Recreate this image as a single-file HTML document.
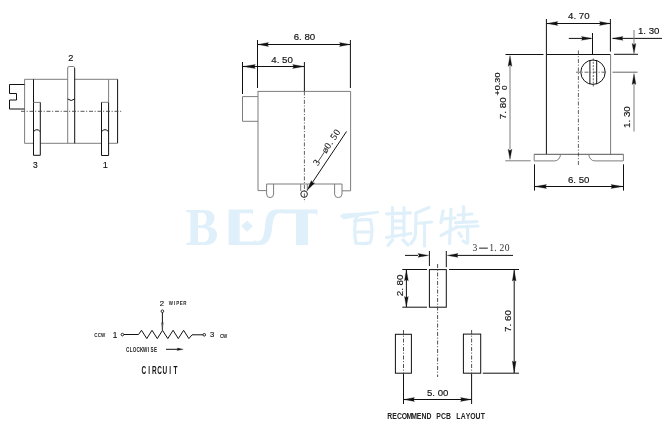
<!DOCTYPE html>
<html><head><meta charset="utf-8"><style>
html,body{margin:0;padding:0;background:#fff;width:671px;height:425px;overflow:hidden;font-family:"Liberation Sans",sans-serif;position:relative}
svg{display:block;position:absolute;left:0;top:0}
.ln{filter:grayscale(1)}
</style></head><body>
<svg class="wm" width="671" height="425" viewBox="0 0 671 425"><text x="0" y="0" font-family="Liberation Serif" font-weight="bold" font-size="53.5" fill="#e0f0fa" transform="translate(185.6,245) scale(0.92,1)">B</text><path fill="#e0f0fa" d="M228.6,209.6 H253 V215 L251.5,213.2 H239.7 V241.4 H254 L255.5,239 V245 H228.6 Z"/><polygon fill="#e0f0fa" points="247,220.5 252.8,226 247,231.8 241.2,226"/><path fill="#e0f0fa" d="M284,209.6 H276 C268,210 266,216 265,226 C264,236 263,240 258,241.5 H252.5 V245 H260 C268,245 271,238 272,229 C273,220 274,214 279,213.2 H284 Z"/><path fill="#e0f0fa" d="M282,209.6 H317.5 V215.5 L315.5,213.4 H308 V245 H296 V213.4 H284 Z"/><polygon fill="#e0f0fa" points="339.8,215.8 343,213.6 360,212.6 378.8,210.8 379.2,213.2 361,216.2 343.5,219.6"/><path d="M358.5,214.5 L354.5,221" fill="none" stroke="#e0f0fa" stroke-width="3.2" stroke-linecap="round" stroke-linejoin="round"/><path d="M355.5,221 Q353.6,232 356,243.5 M370.5,219.8 Q373.6,231 370.2,242.6 M355.5,221 Q363,219.2 370.5,219.8 M356,232 H371 M356,243 Q363,244.6 370.2,242.6" fill="none" stroke="#e0f0fa" stroke-width="3.2" stroke-linecap="round" stroke-linejoin="round"/><path d="M386.5,213.8 L410.5,212.8 M392.5,207.5 V236 M404,207.5 V236 M393,221 H403.5 M393,228 H403.5 M386.5,237.5 L411,233.5 M392.5,240 L388,245.5 M403,240 L408,245" fill="none" stroke="#e0f0fa" stroke-width="3.2" stroke-linecap="round" stroke-linejoin="round"/><path d="M429,207.5 L416,213 M416,213 L415.6,233 Q415,239.5 411,243.5 M416,223.5 L431.5,222 M424.5,223 V246" fill="none" stroke="#e0f0fa" stroke-width="3.2" stroke-linecap="round" stroke-linejoin="round"/><path d="M443,211 L441,222.5 M442,219 L455,218 M451,209 L449.6,243.5 M441,235.5 L457,227" fill="none" stroke="#e0f0fa" stroke-width="3.2" stroke-linecap="round" stroke-linejoin="round"/><path d="M458,215 L472,214 M463.6,206.6 V222 M455.6,222.6 L477,221.6 M456,227 L478,226 M467.6,226 V242.6 Q467.4,244.4 463.2,241 M459,233 L461.6,236.6" fill="none" stroke="#e0f0fa" stroke-width="3.2" stroke-linecap="round" stroke-linejoin="round"/></svg><svg class="ln" width="671" height="425" viewBox="0 0 671 425"><polyline points="24.5,79.3 67.5,79.3" fill="none" stroke="#7d7d7d" stroke-width="1"/><polyline points="74.5,79.3 117.5,79.3" fill="none" stroke="#7d7d7d" stroke-width="1"/><line x1="24.6" y1="79.3" x2="24.6" y2="143.3" stroke="#7d7d7d" stroke-width="1"/><line x1="117.6" y1="79.3" x2="117.6" y2="143.3" stroke="#111" stroke-width="1"/><polyline points="24.5,143.3 33.5,143.3" fill="none" stroke="#7d7d7d" stroke-width="1"/><polyline points="40.5,143.3 101.5,143.3" fill="none" stroke="#7d7d7d" stroke-width="1"/><polyline points="108.5,143.3 117.5,143.3" fill="none" stroke="#7d7d7d" stroke-width="1"/><line x1="33.5" y1="79.3" x2="33.5" y2="155.3" stroke="#111" stroke-width="1"/><line x1="108.6" y1="79.3" x2="108.6" y2="102.5" stroke="#7d7d7d" stroke-width="1"/><polyline points="24.5,84.5 9.5,84.5 9.5,93.5 16.5,93.5 16.5,100 9.5,100 9.5,109 24.5,109" fill="none" stroke="#111" stroke-width="1"/><path d="M67.7,143.3 V68 Q67.7,66.5 69.2,66.5 H73.2 Q74.7,66.5 74.7,68" fill="none" stroke="#7d7d7d" stroke-width="1"/><line x1="74.7" y1="68" x2="74.7" y2="143.3" stroke="#111" stroke-width="1"/><path d="M67.7,99 Q71.2,102 74.7,99" fill="none" stroke="#111" stroke-width="1"/><line x1="33.5" y1="102.4" x2="40.3" y2="102.4" stroke="#7d7d7d" stroke-width="1"/><polyline points="40.3,102.4 40.3,155.3 33.5,155.3" fill="none" stroke="#111" stroke-width="1"/><path d="M33.5,131.7 Q36.9,127.6 40.3,131.7" fill="none" stroke="#111" stroke-width="1"/><line x1="101.5" y1="102.3" x2="108.6" y2="102.3" stroke="#7d7d7d" stroke-width="1"/><polyline points="101.5,102.3 101.5,155.5 108.6,155.5 108.6,102.5" fill="none" stroke="#111" stroke-width="1"/><path d="M101.5,131.7 Q105,127.6 108.6,131.7" fill="none" stroke="#111" stroke-width="1"/><line x1="21" y1="111.3" x2="122" y2="111.3" stroke="#444" stroke-width="0.9" stroke-dasharray="4,1.6,1.1,1.8"/><text x="70.9" y="60.9" font-family="Liberation Sans" font-size="9.2" fill="#111" text-anchor="middle" stroke="#111" stroke-width="0.15">2</text><text x="35.4" y="167.7" font-family="Liberation Sans" font-size="8.4" fill="#111" text-anchor="middle" stroke="#111" stroke-width="0.15">3</text><text x="105.3" y="167.7" font-family="Liberation Sans" font-size="9.2" fill="#111" text-anchor="middle" stroke="#111" stroke-width="0.15">1</text><line x1="257.5" y1="91.4" x2="350.6" y2="91.4" stroke="#7d7d7d" stroke-width="1"/><line x1="258" y1="91.4" x2="258" y2="190.6" stroke="#7d7d7d" stroke-width="1"/><line x1="350.6" y1="91.4" x2="350.6" y2="190.8" stroke="#7d7d7d" stroke-width="1"/><line x1="258" y1="190.6" x2="266.5" y2="190.6" stroke="#7d7d7d" stroke-width="1"/><line x1="342" y1="190.8" x2="350.6" y2="190.8" stroke="#7d7d7d" stroke-width="1"/><line x1="266.5" y1="184" x2="342" y2="184" stroke="#7d7d7d" stroke-width="1"/><polyline points="258,96.6 242.5,96.6 242.5,121.3 258,121.3" fill="none" stroke="#7d7d7d" stroke-width="1"/><path d="M266.6,184 V194 A3.5,3.6 0 0 0 273.6,194 V184" fill="none" stroke="#7d7d7d" stroke-width="1"/><path d="M334.6,184 V194 A3.7,3.6 0 0 0 342,194 V184" fill="none" stroke="#7d7d7d" stroke-width="1"/><line x1="300.7" y1="184" x2="300.7" y2="191" stroke="#7d7d7d" stroke-width="1"/><line x1="307.3" y1="184" x2="307.3" y2="191" stroke="#7d7d7d" stroke-width="1"/><circle cx="304.1" cy="194.1" r="3.3" fill="none" stroke="#222" stroke-width="1"/><line x1="304.4" y1="91.4" x2="304.4" y2="202" stroke="#444" stroke-width="0.85" stroke-dasharray="4,1.6,1.1,1.8"/><line x1="257.5" y1="40" x2="257.5" y2="88" stroke="#111" stroke-width="1"/><line x1="350.4" y1="40" x2="350.4" y2="88" stroke="#111" stroke-width="1"/><line x1="257.5" y1="44.5" x2="350.4" y2="44.5" stroke="#111" stroke-width="1"/><polygon points="258.00,44.50 268.50,42.60 267.30,44.50 268.50,46.40" fill="#111" stroke="#111" stroke-width="0.3" stroke-linejoin="round"/><polygon points="350.00,44.50 339.50,46.40 340.70,44.50 339.50,42.60" fill="#111" stroke="#111" stroke-width="0.3" stroke-linejoin="round"/><text x="293.7" y="40.3" font-family="Liberation Sans" font-size="9.7" fill="#111" text-anchor="start" stroke="#111" stroke-width="0.15">6. 80</text><line x1="242.5" y1="62" x2="242.5" y2="94" stroke="#111" stroke-width="1"/><line x1="304.4" y1="62" x2="304.4" y2="91" stroke="#111" stroke-width="1"/><line x1="242.5" y1="66.5" x2="304.4" y2="66.5" stroke="#111" stroke-width="1"/><polygon points="243.00,66.50 255.30,64.60 254.10,66.50 255.30,68.40" fill="#111" stroke="#111" stroke-width="0.3" stroke-linejoin="round"/><polygon points="304.00,66.50 292.70,68.40 293.90,66.50 292.70,64.60" fill="#111" stroke="#111" stroke-width="0.3" stroke-linejoin="round"/><text x="271.3" y="62.6" font-family="Liberation Sans" font-size="9.7" fill="#111" text-anchor="start" stroke="#111" stroke-width="0.15">4. 50</text><line x1="346.5" y1="131.5" x2="309" y2="187.5" stroke="#111" stroke-width="1"/><polygon points="307.20,190.30 311.27,180.62 312.32,182.79 314.73,182.98" fill="#111" stroke="#111" stroke-width="0.3" stroke-linejoin="round"/><text x="0" y="0" font-family="Liberation Serif" font-size="9.6" fill="#1a1a1a" letter-spacing="0.4" stroke="#111" stroke-width="0.15" transform="translate(317.7,166.3) rotate(-56.1)">3—ø0. 50</text><line x1="546.5" y1="54.5" x2="610.5" y2="54.5" stroke="#111" stroke-width="1"/><line x1="546.4" y1="19" x2="546.4" y2="154.3" stroke="#111" stroke-width="1"/><line x1="610.4" y1="19" x2="610.4" y2="51.6" stroke="#111" stroke-width="1"/><line x1="610.6" y1="54.5" x2="610.6" y2="154.3" stroke="#7d7d7d" stroke-width="1"/><line x1="534" y1="154.3" x2="623.5" y2="154.3" stroke="#555" stroke-width="1"/><path d="M534.2,154.3 V160.9 H554.5 A6,6.6 0 0 0 560.5,154.3" fill="none" stroke="#7d7d7d" stroke-width="1"/><path d="M588.8,154.3 A6,6.6 0 0 0 594.8,160.9 H623.4 V154.3" fill="none" stroke="#7d7d7d" stroke-width="1"/><line x1="578.4" y1="50.5" x2="578.4" y2="166.5" stroke="#444" stroke-width="0.85" stroke-dasharray="4,1.6,1.1,1.8"/><circle cx="593" cy="72.2" r="12.2" fill="none" stroke="#111" stroke-width="1"/><line x1="589.9" y1="60.3" x2="589.9" y2="84.1" stroke="#111" stroke-width="1"/><line x1="596.7" y1="60.3" x2="596.7" y2="84.1" stroke="#111" stroke-width="1"/><line x1="593.3" y1="58.5" x2="593.3" y2="86.5" stroke="#444" stroke-width="0.8" stroke-dasharray="2,1.3"/><line x1="576" y1="72.2" x2="606.5" y2="72.2" stroke="#444" stroke-width="0.8" stroke-dasharray="4,1.6,1.1,1.8"/><line x1="546.4" y1="23.5" x2="610.4" y2="23.5" stroke="#111" stroke-width="1"/><polygon points="547.00,23.50 557.80,21.60 556.60,23.50 557.80,25.40" fill="#111" stroke="#111" stroke-width="0.3" stroke-linejoin="round"/><polygon points="610.00,23.50 599.50,25.40 600.70,23.50 599.50,21.60" fill="#111" stroke="#111" stroke-width="0.3" stroke-linejoin="round"/><text x="568" y="18.9" font-family="Liberation Sans" font-size="9.7" fill="#111" text-anchor="start" stroke="#111" stroke-width="0.15">4. 70</text><line x1="568.8" y1="38.4" x2="591" y2="38.4" stroke="#111" stroke-width="1"/><polygon points="592.00,38.40 581.50,40.30 582.70,38.40 581.50,36.50" fill="#111" stroke="#111" stroke-width="0.3" stroke-linejoin="round"/><line x1="592.5" y1="33" x2="592.5" y2="54.5" stroke="#111" stroke-width="1"/><line x1="612.6" y1="38.4" x2="662" y2="38.4" stroke="#111" stroke-width="1"/><polygon points="612.50,38.40 623.00,36.50 621.80,38.40 623.00,40.30" fill="#111" stroke="#111" stroke-width="0.3" stroke-linejoin="round"/><text x="637.9" y="33.6" font-family="Liberation Sans" font-size="9.7" fill="#111" text-anchor="start" stroke="#111" stroke-width="0.15">1. 30</text><line x1="634" y1="30" x2="634" y2="44" stroke="#7d7d7d" stroke-width="1"/><polygon points="634.00,53.60 632.10,43.50 634.00,44.70 635.90,43.50" fill="#111" stroke="#111" stroke-width="0.3" stroke-linejoin="round"/><line x1="614" y1="54.3" x2="638" y2="54.3" stroke="#111" stroke-width="1"/><line x1="612.5" y1="72.2" x2="637.6" y2="72.2" stroke="#666" stroke-width="1"/><line x1="634" y1="84" x2="634" y2="131.5" stroke="#7d7d7d" stroke-width="1"/><polygon points="634.00,73.60 635.90,84.40 634.00,83.20 632.10,84.40" fill="#111" stroke="#111" stroke-width="0.3" stroke-linejoin="round"/><text x="0" y="0" font-family="Liberation Sans" font-size="9.8" fill="#111" stroke="#111" stroke-width="0.15" transform="translate(630.3,128) rotate(-90)">1. 30</text><line x1="505.5" y1="54.5" x2="543.5" y2="54.5" stroke="#111" stroke-width="1"/><line x1="505.3" y1="160.8" x2="530.7" y2="160.8" stroke="#7d7d7d" stroke-width="1"/><line x1="510" y1="66" x2="510" y2="149" stroke="#7d7d7d" stroke-width="1"/><polygon points="510.00,55.60 511.90,66.30 510.00,65.10 508.10,66.30" fill="#111" stroke="#111" stroke-width="0.3" stroke-linejoin="round"/><polygon points="510.00,159.40 508.10,149.20 510.00,150.40 511.90,149.20" fill="#111" stroke="#111" stroke-width="0.3" stroke-linejoin="round"/><text x="0" y="0" font-family="Liberation Sans" font-size="9.8" fill="#111" stroke="#111" stroke-width="0.15" transform="translate(506.2,119.2) rotate(-90)">7. 80</text><text x="0" y="0" font-family="Liberation Sans" font-size="8" fill="#111" textLength="22.8" lengthAdjust="spacingAndGlyphs" stroke="#111" stroke-width="0.15" transform="translate(500,95.4) rotate(-90)">+0.30</text><text x="0" y="0" font-family="Liberation Sans" font-size="6.8" fill="#111" textLength="4.6" lengthAdjust="spacingAndGlyphs" stroke="#111" stroke-width="0.15" transform="translate(507.4,90) rotate(-90)">0</text><line x1="534.5" y1="164.3" x2="534.5" y2="190.6" stroke="#111" stroke-width="1"/><line x1="623.5" y1="164.3" x2="623.5" y2="190.6" stroke="#111" stroke-width="1"/><line x1="534.5" y1="186.5" x2="623.5" y2="186.5" stroke="#111" stroke-width="1"/><polygon points="535.00,186.50 546.50,184.60 545.30,186.50 546.50,188.40" fill="#111" stroke="#111" stroke-width="0.3" stroke-linejoin="round"/><polygon points="623.00,186.50 611.00,188.40 612.20,186.50 611.00,184.60" fill="#111" stroke="#111" stroke-width="0.3" stroke-linejoin="round"/><text x="567.9" y="182.8" font-family="Liberation Sans" font-size="9.7" fill="#111" text-anchor="start" stroke="#111" stroke-width="0.15">6. 50</text><rect x="429.4" y="269.6" width="16.9" height="37.6" fill="none" stroke="#111"/><rect x="395.4" y="334.3" width="16" height="38.9" fill="none" stroke="#111"/><rect x="463.4" y="334.1" width="17.3" height="39.1" fill="none" stroke="#111"/><line x1="437.6" y1="264" x2="437.6" y2="377" stroke="#333" stroke-width="0.85" stroke-dasharray="4,1.6,1.1,1.8"/><line x1="403.5" y1="330" x2="403.5" y2="374" stroke="#333" stroke-width="0.85" stroke-dasharray="4,1.6,1.1,1.8"/><line x1="403.5" y1="374" x2="403.5" y2="404" stroke="#111" stroke-width="1"/><line x1="471.6" y1="330" x2="471.6" y2="374" stroke="#333" stroke-width="0.85" stroke-dasharray="4,1.6,1.1,1.8"/><line x1="471.6" y1="374" x2="471.6" y2="404" stroke="#111" stroke-width="1"/><line x1="429.4" y1="251" x2="429.4" y2="266" stroke="#111" stroke-width="1"/><line x1="446.3" y1="251" x2="446.3" y2="267.2" stroke="#111" stroke-width="1"/><line x1="405" y1="255.4" x2="418" y2="255.4" stroke="#111" stroke-width="1"/><polygon points="428.50,255.40 418.00,257.30 419.20,255.40 418.00,253.50" fill="#111" stroke="#111" stroke-width="0.3" stroke-linejoin="round"/><line x1="457" y1="255.4" x2="513" y2="255.4" stroke="#111" stroke-width="1"/><polygon points="447.30,255.40 458.00,253.50 456.80,255.40 458.00,257.30" fill="#111" stroke="#111" stroke-width="0.3" stroke-linejoin="round"/><text x="472.6" y="251.4" font-family="Liberation Serif" font-size="9.6" fill="#333" text-anchor="start" >3</text><text x="489.3" y="251.4" font-family="Liberation Serif" font-size="9.6" fill="#333" text-anchor="start" >1</text><text x="494.2" y="251.4" font-family="Liberation Serif" font-size="9.6" fill="#333" text-anchor="start" >.</text><text x="499.4" y="251.4" font-family="Liberation Serif" font-size="9.6" fill="#333" text-anchor="start" >2</text><text x="504.7" y="251.4" font-family="Liberation Serif" font-size="9.6" fill="#333" text-anchor="start" >0</text><rect x="479.1" y="247.6" width="8.7" height="1.1" fill="#333"/><line x1="402.3" y1="269.5" x2="427" y2="269.5" stroke="#111" stroke-width="1"/><line x1="402.3" y1="307.2" x2="427" y2="307.2" stroke="#111" stroke-width="1"/><line x1="406.4" y1="270" x2="406.4" y2="307" stroke="#111" stroke-width="1"/><polygon points="406.40,270.00 408.30,280.80 406.40,279.60 404.50,280.80" fill="#111" stroke="#111" stroke-width="0.3" stroke-linejoin="round"/><polygon points="406.40,306.80 404.50,296.50 406.40,297.70 408.30,296.50" fill="#111" stroke="#111" stroke-width="0.3" stroke-linejoin="round"/><text x="0" y="0" font-family="Liberation Sans" font-size="9.8" fill="#111" stroke="#111" stroke-width="0.15" transform="translate(402.8,296.3) rotate(-90)">2. 80</text><line x1="449" y1="269.5" x2="519" y2="269.5" stroke="#111" stroke-width="1"/><line x1="482.8" y1="373.2" x2="519" y2="373.2" stroke="#111" stroke-width="1"/><line x1="514.2" y1="270" x2="514.2" y2="373" stroke="#111" stroke-width="1"/><polygon points="514.20,270.50 516.10,281.00 514.20,279.80 512.30,281.00" fill="#111" stroke="#111" stroke-width="0.3" stroke-linejoin="round"/><polygon points="514.20,372.40 512.30,361.00 514.20,362.20 516.10,361.00" fill="#111" stroke="#111" stroke-width="0.3" stroke-linejoin="round"/><text x="0" y="0" font-family="Liberation Sans" font-size="9.8" fill="#111" stroke="#111" stroke-width="0.15" transform="translate(511.2,331.9) rotate(-90)">7. 60</text><line x1="403.5" y1="399.5" x2="471.6" y2="399.5" stroke="#111" stroke-width="1"/><polygon points="404.00,399.50 414.50,397.60 413.30,399.50 414.50,401.40" fill="#111" stroke="#111" stroke-width="0.3" stroke-linejoin="round"/><polygon points="471.00,399.50 460.50,401.40 461.70,399.50 460.50,397.60" fill="#111" stroke="#111" stroke-width="0.3" stroke-linejoin="round"/><text x="427" y="395.6" font-family="Liberation Sans" font-size="9.6" fill="#111" text-anchor="start" stroke="#111" stroke-width="0.15">5. 00</text><text x="0" y="0" font-family="Liberation Sans" font-size="8.6" font-weight="bold" fill="#222" text-anchor="middle" transform="translate(389.65,419) scale(0.8,1)">R</text><text x="0" y="0" font-family="Liberation Sans" font-size="8.6" font-weight="bold" fill="#222" text-anchor="middle" transform="translate(394.55,419) scale(0.8,1)">E</text><text x="0" y="0" font-family="Liberation Sans" font-size="8.6" font-weight="bold" fill="#222" text-anchor="middle" transform="translate(399.45,419) scale(0.8,1)">C</text><text x="0" y="0" font-family="Liberation Sans" font-size="8.6" font-weight="bold" fill="#222" text-anchor="middle" transform="translate(404.35,419) scale(0.8,1)">O</text><text x="0" y="0" font-family="Liberation Sans" font-size="8.6" font-weight="bold" fill="#222" text-anchor="middle" transform="translate(409.25,419) scale(0.8,1)">M</text><text x="0" y="0" font-family="Liberation Sans" font-size="8.6" font-weight="bold" fill="#222" text-anchor="middle" transform="translate(414.15,419) scale(0.8,1)">M</text><text x="0" y="0" font-family="Liberation Sans" font-size="8.6" font-weight="bold" fill="#222" text-anchor="middle" transform="translate(419.05,419) scale(0.8,1)">E</text><text x="0" y="0" font-family="Liberation Sans" font-size="8.6" font-weight="bold" fill="#222" text-anchor="middle" transform="translate(423.95,419) scale(0.8,1)">N</text><text x="0" y="0" font-family="Liberation Sans" font-size="8.6" font-weight="bold" fill="#222" text-anchor="middle" transform="translate(428.85,419) scale(0.8,1)">D</text><text x="0" y="0" font-family="Liberation Sans" font-size="8.6" font-weight="bold" fill="#222" text-anchor="middle" transform="translate(438.65,419) scale(0.8,1)">P</text><text x="0" y="0" font-family="Liberation Sans" font-size="8.6" font-weight="bold" fill="#222" text-anchor="middle" transform="translate(443.55,419) scale(0.8,1)">C</text><text x="0" y="0" font-family="Liberation Sans" font-size="8.6" font-weight="bold" fill="#222" text-anchor="middle" transform="translate(448.45,419) scale(0.8,1)">B</text><text x="0" y="0" font-family="Liberation Sans" font-size="8.6" font-weight="bold" fill="#222" text-anchor="middle" transform="translate(458.25,419) scale(0.8,1)">L</text><text x="0" y="0" font-family="Liberation Sans" font-size="8.6" font-weight="bold" fill="#222" text-anchor="middle" transform="translate(463.15,419) scale(0.8,1)">A</text><text x="0" y="0" font-family="Liberation Sans" font-size="8.6" font-weight="bold" fill="#222" text-anchor="middle" transform="translate(468.05,419) scale(0.8,1)">Y</text><text x="0" y="0" font-family="Liberation Sans" font-size="8.6" font-weight="bold" fill="#222" text-anchor="middle" transform="translate(472.95,419) scale(0.8,1)">O</text><text x="0" y="0" font-family="Liberation Sans" font-size="8.6" font-weight="bold" fill="#222" text-anchor="middle" transform="translate(477.85,419) scale(0.8,1)">U</text><text x="0" y="0" font-family="Liberation Sans" font-size="8.6" font-weight="bold" fill="#222" text-anchor="middle" transform="translate(482.75,419) scale(0.8,1)">T</text><polyline points="124,334.5 138.5,334.5 141.5,330.3 146.8,338.6 152,330.3 157.3,338.6 162.5,330.3 167.8,338.6 173.1,330.3 178.3,338.6 183.6,330.3 188.9,338.6 192,334.8 203,334.8" fill="none" stroke="#111" stroke-width="1"/><circle cx="122.4" cy="334.6" r="1.3" fill="none" stroke="#111" stroke-width="0.9"/><circle cx="204.3" cy="334.8" r="1.3" fill="none" stroke="#111" stroke-width="0.9"/><circle cx="162.4" cy="311.2" r="1.3" fill="none" stroke="#111" stroke-width="0.9"/><line x1="162.4" y1="312.5" x2="162.4" y2="330" stroke="#111" stroke-width="1"/><polygon points="162.40,330.30 161.40,322.50 162.40,323.70 163.40,322.50" fill="#555" stroke="#555" stroke-width="0.3" stroke-linejoin="round"/><text x="0" y="0" font-family="Liberation Sans" font-size="6.2" font-weight="bold" fill="#222" text-anchor="middle" transform="translate(95.80,337.4) scale(0.72,1)">C</text><text x="0" y="0" font-family="Liberation Sans" font-size="6.2" font-weight="bold" fill="#222" text-anchor="middle" transform="translate(99.40,337.4) scale(0.72,1)">C</text><text x="0" y="0" font-family="Liberation Sans" font-size="6.2" font-weight="bold" fill="#222" text-anchor="middle" transform="translate(103.00,337.4) scale(0.72,1)">W</text><text x="0" y="0" font-family="Liberation Sans" font-size="6.2" font-weight="bold" fill="#222" text-anchor="middle" transform="translate(170.75,304.9) scale(0.72,1)">W</text><text x="0" y="0" font-family="Liberation Sans" font-size="6.2" font-weight="bold" fill="#222" text-anchor="middle" transform="translate(174.25,304.9) scale(0.72,1)">I</text><text x="0" y="0" font-family="Liberation Sans" font-size="6.2" font-weight="bold" fill="#222" text-anchor="middle" transform="translate(177.75,304.9) scale(0.72,1)">P</text><text x="0" y="0" font-family="Liberation Sans" font-size="6.2" font-weight="bold" fill="#222" text-anchor="middle" transform="translate(181.25,304.9) scale(0.72,1)">E</text><text x="0" y="0" font-family="Liberation Sans" font-size="6.2" font-weight="bold" fill="#222" text-anchor="middle" transform="translate(184.75,304.9) scale(0.72,1)">R</text><text x="0" y="0" font-family="Liberation Sans" font-size="6.2" font-weight="bold" fill="#222" text-anchor="middle" transform="translate(221.60,337.8) scale(0.72,1)">C</text><text x="0" y="0" font-family="Liberation Sans" font-size="6.2" font-weight="bold" fill="#222" text-anchor="middle" transform="translate(225.20,337.8) scale(0.72,1)">W</text><text x="0" y="0" font-family="Liberation Sans" font-size="6.4" font-weight="bold" fill="#222" text-anchor="middle" transform="translate(127.55,352) scale(0.72,1)">C</text><text x="0" y="0" font-family="Liberation Sans" font-size="6.4" font-weight="bold" fill="#222" text-anchor="middle" transform="translate(131.05,352) scale(0.72,1)">L</text><text x="0" y="0" font-family="Liberation Sans" font-size="6.4" font-weight="bold" fill="#222" text-anchor="middle" transform="translate(134.55,352) scale(0.72,1)">O</text><text x="0" y="0" font-family="Liberation Sans" font-size="6.4" font-weight="bold" fill="#222" text-anchor="middle" transform="translate(138.05,352) scale(0.72,1)">C</text><text x="0" y="0" font-family="Liberation Sans" font-size="6.4" font-weight="bold" fill="#222" text-anchor="middle" transform="translate(141.55,352) scale(0.72,1)">K</text><text x="0" y="0" font-family="Liberation Sans" font-size="6.4" font-weight="bold" fill="#222" text-anchor="middle" transform="translate(145.05,352) scale(0.72,1)">W</text><text x="0" y="0" font-family="Liberation Sans" font-size="6.4" font-weight="bold" fill="#222" text-anchor="middle" transform="translate(148.55,352) scale(0.72,1)">I</text><text x="0" y="0" font-family="Liberation Sans" font-size="6.4" font-weight="bold" fill="#222" text-anchor="middle" transform="translate(152.05,352) scale(0.72,1)">S</text><text x="0" y="0" font-family="Liberation Sans" font-size="6.4" font-weight="bold" fill="#222" text-anchor="middle" transform="translate(155.55,352) scale(0.72,1)">E</text><text x="115" y="337.8" font-family="Liberation Sans" font-size="8.2" fill="#111" text-anchor="middle" stroke="#111" stroke-width="0.15">1</text><text x="162" y="305.6" font-family="Liberation Sans" font-size="7.8" fill="#111" text-anchor="middle" stroke="#111" stroke-width="0.15">2</text><text x="212.1" y="337.4" font-family="Liberation Sans" font-size="7.6" fill="#111" text-anchor="middle" stroke="#111" stroke-width="0.15">3</text><line x1="166" y1="349.3" x2="180" y2="349.3" stroke="#111" stroke-width="1"/><polygon points="183.20,349.30 177.00,350.50 178.20,349.30 177.00,348.10" fill="#111" stroke="#111" stroke-width="0.3" stroke-linejoin="round"/><text x="0" y="0" font-family="Liberation Sans" font-size="10.4" font-weight="bold" fill="#111" text-anchor="middle" transform="translate(143.75,373.8) scale(0.62,1)">C</text><text x="0" y="0" font-family="Liberation Sans" font-size="10.4" font-weight="bold" fill="#111" text-anchor="middle" transform="translate(149.05,373.8) scale(0.62,1)">I</text><text x="0" y="0" font-family="Liberation Sans" font-size="10.4" font-weight="bold" fill="#111" text-anchor="middle" transform="translate(154.35,373.8) scale(0.62,1)">R</text><text x="0" y="0" font-family="Liberation Sans" font-size="10.4" font-weight="bold" fill="#111" text-anchor="middle" transform="translate(159.65,373.8) scale(0.62,1)">C</text><text x="0" y="0" font-family="Liberation Sans" font-size="10.4" font-weight="bold" fill="#111" text-anchor="middle" transform="translate(164.95,373.8) scale(0.62,1)">U</text><text x="0" y="0" font-family="Liberation Sans" font-size="10.4" font-weight="bold" fill="#111" text-anchor="middle" transform="translate(170.25,373.8) scale(0.62,1)">I</text><text x="0" y="0" font-family="Liberation Sans" font-size="10.4" font-weight="bold" fill="#111" text-anchor="middle" transform="translate(175.55,373.8) scale(0.62,1)">T</text></svg>
</body></html>
